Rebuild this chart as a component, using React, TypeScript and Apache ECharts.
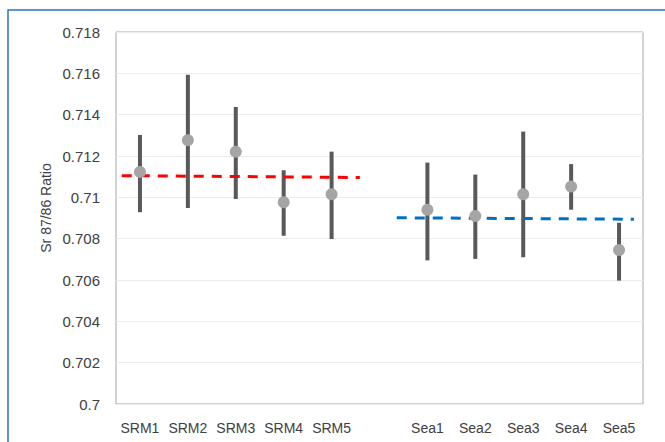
import React, { useEffect, useRef } from "react";
import * as echarts from "echarts";

const categories = ["SRM1", "SRM2", "SRM3", "SRM4", "SRM5", "", "Sea1", "Sea2", "Sea3", "Sea4", "Sea5"];
const means = [0.71123, 0.71276, 0.71221, 0.70976, 0.71015, null, 0.7094, 0.7091, 0.71015, 0.71052, 0.70745];
const highs = [0.71302, 0.71593, 0.71437, 0.71131, 0.71221, null, 0.71168, 0.7111, 0.71318, 0.71161, 0.70877];
const lows = [0.70928, 0.70948, 0.70992, 0.70814, 0.70798, null, 0.70695, 0.70702, 0.7071, 0.7094, 0.70597];
const srmTrend = [[-0.38, 0.71105], [4.59, 0.71096]];
const seaTrend = [[5.36, 0.70901], [10.31, 0.70894]];
const yTicks = { min: 0.7, max: 0.718, interval: 0.002 };

export default function App() {
  const ref = useRef<HTMLDivElement>(null);
  useEffect(() => {
    const chart = echarts.init(ref.current!, undefined, { renderer: "svg" });
    const font = "'Liberation Sans', Arial, sans-serif";
    const errData = categories
      .map((_, i) => (highs[i] == null ? null : [i, lows[i], highs[i]]))
      .filter((d) => d !== null);
    const dotData = categories
      .map((_, i) => (means[i] == null ? null : [i, means[i]]))
      .filter((d) => d !== null);
    chart.setOption({
      animation: false,
      backgroundColor: "#ffffff",
      grid: {
        left: 116,
        right: 22,
        top: 32,
        bottom: 38,
        show: true,
        borderColor: "#a6a6a6",
        borderWidth: 1,
      },
      graphic: [
        {
          type: "rect",
          shape: { x: 8, y: 10, width: 720, height: 500 },
          style: { fill: "none", stroke: "#2e75b6", lineWidth: 1.5 },
          silent: true,
        },
        {
          type: "text",
          x: 46,
          y: 208,
          rotation: Math.PI / 2,
          style: {
            text: "Sr 87/86 Ratio",
            font: `14px ${font}`,
            fill: "#404040",
            align: "center",
            verticalAlign: "middle",
          },
        },
      ],
      xAxis: [
        {
          type: "category",
          data: categories,
          axisLine: { show: false },
          axisTick: { show: false },
          axisLabel: { color: "#404040", fontSize: 14, fontFamily: font, margin: 17, interval: 0 },
          splitLine: { show: false },
        },
        {
          type: "value",
          min: -0.5,
          max: 10.5,
          show: false,
        },
      ],
      yAxis: {
        type: "value",
        min: yTicks.min,
        max: yTicks.max,
        interval: yTicks.interval,
        axisLine: { show: false },
        axisTick: { show: false },
        axisLabel: { color: "#404040", fontSize: 15, fontFamily: font, margin: 16 },
        splitLine: { lineStyle: { color: "#ebebeb", width: 1 } },
      },
      series: [
        {
          type: "custom",
          xAxisIndex: 0,
          data: errData,
          renderItem: (params: any, api: any) => {
            const x = api.value(0);
            const p1 = api.coord([x, api.value(1)]);
            const p2 = api.coord([x, api.value(2)]);
            return {
              type: "line",
              shape: { x1: p1[0], y1: p1[1], x2: p2[0], y2: p2[1] },
              style: { stroke: "#595959", lineWidth: 4 },
            };
          },
          z: 2,
        },
        {
          type: "line",
          xAxisIndex: 1,
          data: srmTrend,
          symbol: "none",
          lineStyle: { color: "#ff0000", width: 3, type: [10, 8] },
          z: 3,
        },
        {
          type: "line",
          xAxisIndex: 1,
          data: seaTrend,
          symbol: "none",
          lineStyle: { color: "#0070c0", width: 3, type: [10, 8] },
          z: 3,
        },
        {
          type: "scatter",
          xAxisIndex: 0,
          data: dotData,
          symbol: "circle",
          symbolSize: 12,
          itemStyle: { color: "#a5a5a5", opacity: 1 },
          z: 4,
        },
      ],
    });
    return () => chart.dispose();
  }, []);
  return (
    <div
      ref={ref}
      style={{ position: "fixed", left: 0, top: 0, width: 665, height: 442 }}
    />
  );
}
